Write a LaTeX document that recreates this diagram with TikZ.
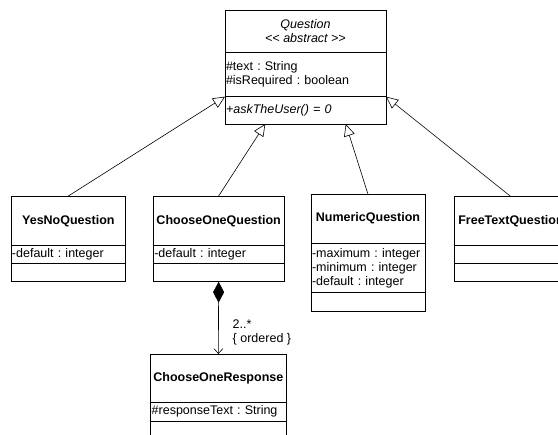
\documentclass[tikz,border=0pt]{standalone}
\usepackage{fontspec}
\setmainfont{Liberation Sans}
\usetikzlibrary{arrows.meta, positioning, calc}
\frenchspacing
\newcommand{\umlsize}{\fontsize{12.5}{14}\selectfont}
\newcommand{\stereo}[1]{<\kern0pt< #1 >\kern0pt>}
\tikzstyle{classname} = [rectangle, draw=black, line width=0.8pt, outer sep=0pt, inner sep=1pt, anchor=north west, font=\umlsize\bfseries, align=center]
\tikzstyle{classpart} = [rectangle, draw=black, line width=0.8pt, outer sep=0pt, inner sep=1pt, align=left, font=\umlsize]
\tikzstyle{inherit} = [line width=0.6pt, -{Triangle[open, length=12pt, width=11pt]}]
\tikzstyle{compose} = [line width=0.6pt, {Diamond[length=21pt, width=11pt]}-{Straight Barb[length=5pt, width=9pt]}]

\begin{document}
\begin{tikzpicture}[x=1pt, y=-1pt, font=\umlsize]
        \useasboundingbox (0,0) rectangle (558,435);
        \clip (0,0) rectangle (558,435);

        % Nodes
        \node [classname, font=\umlsize\itshape, minimum width=161pt, minimum height=42pt] (question) at (225,10) {Question\\\stereo{abstract}};
        \node [classpart, below=0pt of question, text width=159pt, minimum height=44.7pt] (question_attr) {\#text : String\\\#isRequired : boolean};
        \node [classpart, below=0pt of question_attr, text width=159pt, minimum height=27.3pt] (question_ops) {\textit{+askTheUser() = 0}};

        \node [classname, minimum width=114.7pt, minimum height=49.7pt] (yesno) at (11,196) {YesNoQuestion};
        \node [classpart, below=0pt of yesno, text width=112.7pt, minimum height=17.8pt] (yesno_attr) {-default : integer};
        \node [classpart, below=0pt of yesno_attr, text width=112.7pt, minimum height=18.2pt] (yesno_ops) {};

        \node [classname, minimum width=130.7pt, minimum height=49.7pt] (chooseone) at (153.3,196) {ChooseOneQuestion};
        \node [classpart, below=0pt of chooseone, text width=128.7pt, minimum height=17.8pt] (chooseone_attr) {-default : integer};
        \node [classpart, below=0pt of chooseone_attr, text width=128.7pt, minimum height=18.2pt] (chooseone_ops) {};

        \node [classname, minimum width=114pt, minimum height=48.7pt] (numeric) at (311,194.3) {NumericQuestion};
        \node [classpart, below=0pt of numeric, text width=112pt, minimum height=49.7pt] (numeric_attr) {-maximum : integer\\-minimum : integer\\-default : integer};
        \node [classpart, below=0pt of numeric_attr, text width=112pt, minimum height=18.3pt] (numeric_ops) {};

        \node [classname, minimum width=114pt, minimum height=48.3pt] (freetext) at (454,196.7) {FreeTextQuestion};
        \node [classpart, below=0pt of freetext, text width=112pt, minimum height=18.3pt] (freetext_attr) {};
        \node [classpart, below=0pt of freetext_attr, text width=112pt, minimum height=18.4pt] (freetext_ops) {};

        \node [classname, minimum width=135.3pt, minimum height=48.3pt] (response) at (150.7,354) {ChooseOneResponse};
        \node [classpart, below=0pt of response, text width=133.3pt, minimum height=18.7pt] (response_attr) {\#responseText : String};
        \node [classpart, below=0pt of response_attr, text width=133.3pt, minimum height=20pt] (response_ops) {};

        % Arrows
        \draw [inherit] (yesno.north) -- (question_attr.south west);
        \draw [inherit] (chooseone.north) -- ($(question_ops.south west)!0.25!(question_ops.south east)$);
        \draw [inherit] (numeric.north) -- ($(question_ops.south west)!0.75!(question_ops.south east)$);
        \draw [inherit] (freetext.north) -- (question_attr.south east);
        \draw [compose] (chooseone_ops.south) -- (response.north) node[pos=0.7, right=14pt, inner sep=0pt, align=left] (mult) {2..*\\\{ ordered \}};
    \end{tikzpicture}
\end{document}
